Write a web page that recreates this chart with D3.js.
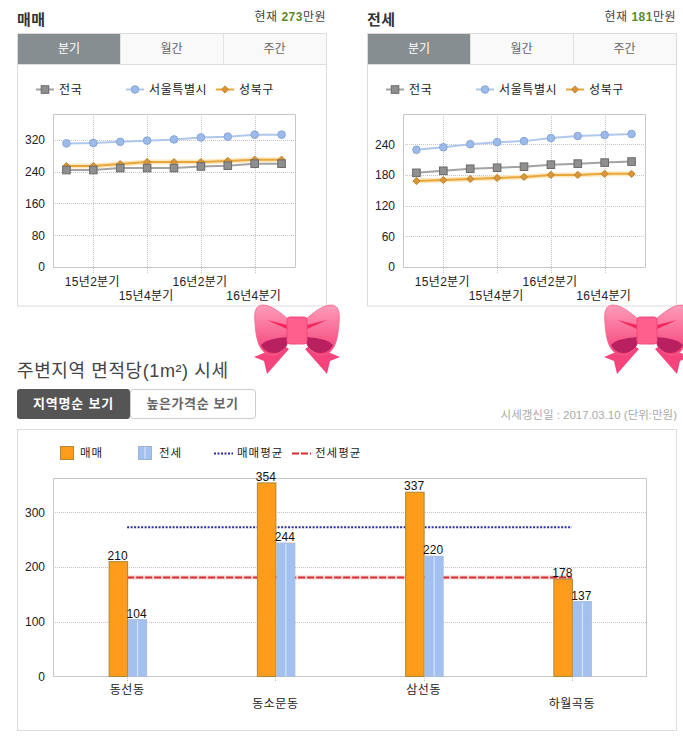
<!DOCTYPE html>
<html>
<head>
<meta charset="utf-8">
<script src="https://cdn.jsdelivr.net/npm/d3@7"></script>
<style>
body { margin: 0; background: #fff; }
text { font-family: "Liberation Sans", "Noto Sans CJK KR", sans-serif; }
.domain { display: none; }
</style>
</head>
<body>
<svg id="chart" width="683" height="740"></svg>
<script>
//top line charts
var quarters = ["15년1분기", "15년2분기", "15년3분기", "15년4분기", "16년1분기", "16년2분기", "16년3분기", "16년4분기", "17년1분기"];
var tabLabels = ["분기", "월간", "주간"];
var lineNames = ["전국", "서울특별시", "성북구"];

var saleNational = [244, 244, 249, 249, 249, 253, 255, 260, 260];
var saleSeoul = [311, 312, 315, 318, 321, 326, 328, 333, 333];
var saleLocal = [254, 254, 259, 264, 264, 264, 267, 270, 270];
var saleTicks = [0, 80, 160, 240, 320];
var saleTop = 385;

var rentNational = [184, 188, 192, 194, 196, 200, 202, 204, 206];
var rentSeoul = [229, 234, 240, 244, 246, 252, 256, 258, 260];
var rentLocal = [168, 170, 172, 174, 176, 180, 180, 182, 182];
var rentTicks = [0, 60, 120, 180, 240];
var rentTop = 299;

//bottom bar chart
var dongNames = ["동선동", "동소문동", "삼선동", "하월곡동"];
var dongSale = [210, 354, 337, 178];
var dongRent = [104, 244, 220, 137];
var saleAverage = 273;
var rentAverage = 181;
var barTicks = [0, 100, 200, 300];

var svg = d3.select("#chart");
var defs = svg.append("defs");

var bowGrad = defs.append("linearGradient").attr("id", "bowGrad").attr("x1", 0).attr("x2", 0).attr("y1", 0).attr("y2", 1);
bowGrad.append("stop").attr("offset", "0%").attr("stop-color", "#ff9dbb");
bowGrad.append("stop").attr("offset", "100%").attr("stop-color", "#f43f76");

function label(parent, x, y, str, size, color, anchor, weight, spacing) {
    return parent.append("text")
        .attr("x", x).attr("y", y)
        .attr("font-size", size)
        .attr("fill", color)
        .attr("text-anchor", anchor || "start")
        .attr("font-weight", weight || "normal")
        .attr("letter-spacing", spacing || 0)
        .text(str);
}

function drawMarker(g, kind, x, y) {
    if (kind == 0) {
        g.append("rect").attr("x", x - 3.8).attr("y", y - 3.8).attr("width", 7.6).attr("height", 7.6)
            .attr("fill", "#8f8f8f").attr("stroke", "#6a6a6a");
    } else if (kind == 1) {
        g.append("circle").attr("cx", x).attr("cy", y).attr("r", 3.8)
            .attr("fill", "#9dbbea").attr("stroke", "#86a5d8");
    } else {
        g.append("path").attr("transform", `translate(${x},${y})`)
            .attr("d", "M0,-3.6L3.6,0L0,3.6L-3.6,0Z")
            .attr("fill", "#d9953a").attr("stroke", "#c0852f");
    }
}

var lineColors = ["#a3a3a3", "#afc8ea", "#e8a63c"];

//one quarter/month/week panel
function drawPanel(left, title, now, series, ticks, top) {
    var g = svg.append("g").attr("transform", `translate(${left},0)`);

    label(g, 0, 25, title, 15, "#333", "start", "bold", 0.5);
    var nowText = label(g, 309, 21, "현재 ", 12, "#444", "end", "normal", 0.5);
    nowText.append("tspan").attr("fill", "#5c8a2e").attr("font-weight", "bold").text(now);
    nowText.append("tspan").text("만원");

    g.append("rect").attr("x", 0.5).attr("y", 33.5).attr("width", 309).attr("height", 272.5)
        .attr("fill", "#fff").attr("stroke", "#dcdcdc");

    var tabX = [1, 103, 206, 309];
    tabLabels.forEach((tab, i) => {
        g.append("rect").attr("x", tabX[i]).attr("y", 34).attr("width", tabX[i + 1] - tabX[i]).attr("height", 30)
            .attr("fill", i == 0 ? "#868e91" : "#f9f9f9");
        g.append("line").attr("x1", tabX[i]).attr("x2", tabX[i + 1]).attr("y1", 64.5).attr("y2", 64.5).attr("stroke", "#dcdcdc");
        if (i > 0) g.append("line").attr("x1", tabX[i] + 0.5).attr("x2", tabX[i] + 0.5).attr("y1", 34).attr("y2", 64).attr("stroke", "#e2e2e2");
        label(g, (tabX[i] + tabX[i + 1]) / 2, 53, tab, 12, i == 0 ? "#fff" : "#666", "middle");
    });

    //legend
    var legendX = [19, 109, 199];
    lineNames.forEach((name, i) => {
        g.append("line").attr("x1", legendX[i]).attr("x2", legendX[i] + 18).attr("y1", 89.5).attr("y2", 89.5)
            .attr("stroke", lineColors[i]).attr("stroke-width", 2);
        drawMarker(g, i, legendX[i] + 9, 89.5);
        label(g, legendX[i] + 23, 93.5, name, 12, "#222", "start", "normal", 0.6);
    });

    var x = d3.scalePoint().domain(quarters).range([36, 278]).padding(0.5);
    var y = d3.scaleLinear().domain([0, top]).range([267, 114]);

    //grid
    g.selectAll(".hgrid").data(ticks.slice(1)).enter().append("line")
        .attr("x1", 36).attr("x2", 278)
        .attr("y1", d => Math.round(y(d)) + 0.5).attr("y2", d => Math.round(y(d)) + 0.5)
        .attr("stroke", "#c4c4c4").attr("stroke-dasharray", "1,1");
    g.selectAll(".vgrid").data(quarters.filter((q, i) => i % 2 == 1)).enter().append("line")
        .attr("x1", d => Math.round(x(d)) + 0.5).attr("x2", d => Math.round(x(d)) + 0.5)
        .attr("y1", 114).attr("y2", 273)
        .attr("stroke", "#c4c4c4").attr("stroke-dasharray", "1,1");

    g.append("path").attr("d", "M36.5,114.5H278.5V267.5H36.5Z").attr("fill", "none").attr("stroke", "#c8c8c8");

    //y axis
    var yAxis = g.append("g").attr("transform", "translate(36,0)")
        .call(d3.axisLeft(y).tickValues(ticks).tickSize(0).tickPadding(8));
    yAxis.selectAll("text").attr("font-size", 12).attr("fill", "#222")
        .style("font-family", "'Liberation Sans', sans-serif");

    //x labels on two rows
    quarters.forEach((q, i) => {
        if (i % 2 == 1) {
            label(g, x(q) - 1, i % 4 == 1 ? 286 : 300, q, 12, "#222", "middle", "normal", 0.3);
        }
    });

    //local drawn first so squares sit over diamonds
    [2, 1, 0].forEach((k) => {
        var line = d3.line().x((d, i) => x(quarters[i])).y(d => y(d));
        if (k == 2) {
            g.append("path").attr("d", line(series[k])).attr("fill", "none").attr("stroke", "#fde8bd").attr("stroke-width", 5);
        }
        g.append("path").attr("d", line(series[k])).attr("fill", "none").attr("stroke", lineColors[k]).attr("stroke-width", 2);
        series[k].forEach((v, i) => drawMarker(g, k, x(quarters[i]), y(v)));
    });
}

drawPanel(17, "매매", "273", [saleNational, saleSeoul, saleLocal], saleTicks, saleTop);
drawPanel(367, "전세", "181", [rentNational, rentSeoul, rentLocal], rentTicks, rentTop);

//ribbon decoration
function drawBow(cx) {
    var g = svg.append("g").attr("transform", `translate(${cx},305)`);
    [1, -1].forEach((side) => {
        var s = g.append("g").attr("transform", `scale(${side},1)`);
        s.append("path").attr("d", "M-14,40L-43,52L-33,56L-30,69L-8,44Z").attr("fill", "#f5447c");
        s.append("path").attr("d", "M-9,14C-16,8-26,0-34,0C-42,0-43,8-42,18C-41,34-38,50-24,50C-16,50-12,42-9,38Z")
            .attr("fill", "url(#bowGrad)").attr("stroke", "#f0668f").attr("stroke-width", 0.8);
        s.append("path").attr("d", "M-10,32C-20,33-30,34-36,40C-32,48-24,49-18,47C-14,45-11,42-10,40Z").attr("fill", "#b8205f");
        s.append("path").attr("d", "M-30,15L-10,20L-10,24Z").attr("fill", "#f5265c");
    });
    g.append("rect").attr("x", -10).attr("y", 12).attr("width", 20).attr("height", 27).attr("rx", 3)
        .attr("fill", "#ff5f8c").attr("stroke", "#f04a7c");
}
drawBow(297);
drawBow(647);

//section heading and buttons
label(svg, 17, 377, "주변지역 면적당(1m²) 시세", 18, "#444", "start", "normal", 0.6);
svg.append("rect").attr("x", 17).attr("y", 389).attr("width", 113).attr("height", 30).attr("rx", 3).attr("fill", "#555");
label(svg, 73.5, 408, "지역명순 보기", 13, "#fff", "middle", "bold", 0.8);
svg.append("rect").attr("x", 130.5).attr("y", 389.5).attr("width", 125).attr("height", 29).attr("rx", 3)
    .attr("fill", "#fff").attr("stroke", "#ccc");
label(svg, 192.5, 408, "높은가격순 보기", 13, "#666", "middle", "bold", 0.6);
label(svg, 677, 418.5, "시세갱신일 : 2017.03.10 (단위:만원)", 11.5, "#aaa", "end");

svg.append("rect").attr("x", 17.5).attr("y", 429.5).attr("width", 659).attr("height", 301)
    .attr("fill", "#fff").attr("stroke", "#ddd");

//bar legend
svg.append("rect").attr("x", 60.5).attr("y", 446.5).attr("width", 13).attr("height", 13).attr("fill", "#ff9c1c").attr("stroke", "#b8862f");
label(svg, 80, 457, "매매", 11.5, "#222", "start", "normal", 1);
svg.append("rect").attr("x", 138.5).attr("y", 446.5).attr("width", 13).attr("height", 13).attr("fill", "#a3c1f0").attr("stroke", "#9fb3d0");
svg.append("line").attr("x1", 145).attr("x2", 145).attr("y1", 447).attr("y2", 459).attr("stroke", "#dfe9fa");
label(svg, 159, 457, "전세", 11.5, "#222", "start", "normal", 1);
svg.append("line").attr("x1", 214).attr("x2", 233).attr("y1", 453.5).attr("y2", 453.5)
    .attr("stroke", "#2b2b9c").attr("stroke-width", 2).attr("stroke-dasharray", "2,1.5");
label(svg, 237, 457, "매매평균", 11.5, "#222", "start", "normal", 1);
svg.append("line").attr("x1", 292).attr("x2", 311).attr("y1", 453.5).attr("y2", 453.5)
    .attr("stroke", "#d92b2b").attr("stroke-width", 2).attr("stroke-dasharray", "7,2");
label(svg, 315, 457, "전세평균", 11.5, "#222", "start", "normal", 1);

//bar chart scales
var bx = d3.scaleBand().domain(dongNames).range([53, 646]);
var by = d3.scaleLinear().domain([0, 363]).range([676.5, 478]);
var center = d => bx(d) + bx.bandwidth() / 2;
var barW = 19;

var bars = svg.append("g");
bars.selectAll(".hgrid").data(barTicks.slice(1)).enter().append("line")
    .attr("x1", 53).attr("x2", 646)
    .attr("y1", d => Math.round(by(d)) + 0.5).attr("y2", d => Math.round(by(d)) + 0.5)
    .attr("stroke", "#c4c4c4").attr("stroke-dasharray", "1,1");
bars.selectAll(".tick2").data(dongNames).enter().append("line")
    .attr("x1", d => Math.round(center(d)) + 0.5).attr("x2", d => Math.round(center(d)) + 0.5)
    .attr("y1", 676).attr("y2", 682)
    .attr("stroke", "#bdbdbd").attr("stroke-dasharray", "1,1");
bars.append("path").attr("d", "M53.5,478.5H646.5V676.5H53.5Z").attr("fill", "none").attr("stroke", "#c8c8c8");

//average lines sit behind the bars
var avgFirst = center(dongNames[0]);
var avgLast = center(dongNames[3]);
bars.append("line").attr("x1", avgFirst).attr("x2", avgLast).attr("y1", by(saleAverage)).attr("y2", by(saleAverage))
    .attr("stroke", "#2b2b9c").attr("stroke-width", 2).attr("stroke-dasharray", "2,1.5");
bars.append("line").attr("x1", avgFirst).attr("x2", avgLast).attr("y1", by(rentAverage)).attr("y2", by(rentAverage))
    .attr("stroke", "#fad0d0").attr("stroke-width", 4);
bars.append("line").attr("x1", avgFirst).attr("x2", avgLast).attr("y1", by(rentAverage)).attr("y2", by(rentAverage))
    .attr("stroke", "#d22f35").attr("stroke-width", 2).attr("stroke-dasharray", "7,2");

dongNames.forEach((name, i) => {
    var c = center(name);
    bars.append("rect").attr("x", c - barW + 1).attr("y", by(dongSale[i])).attr("width", barW - 0.5).attr("height", by(0) - by(dongSale[i]))
        .attr("fill", "#ff9c1c").attr("stroke", "#ab8436");
    bars.append("rect").attr("x", c + 1.5).attr("y", by(dongRent[i])).attr("width", barW - 1).attr("height", by(0) - by(dongRent[i]))
        .attr("fill", "#a3c1f0").attr("stroke", "#a9bdda");
    bars.append("line").attr("x1", c + 10.5).attr("x2", c + 10.5).attr("y1", by(dongRent[i]) + 1).attr("y2", by(0))
        .attr("stroke", "#dfe9fa");
    label(bars, c - barW / 2, by(dongSale[i]) - 2, dongSale[i], 12, "#111", "middle");
    label(bars, c + barW / 2, by(dongRent[i]) - 2, dongRent[i], 12, "#111", "middle");
    label(bars, c, i % 2 == 0 ? 694 : 708, name, 12, "#222", "middle", "normal", 0.5);
});

var barAxis = bars.append("g").attr("transform", "translate(53,0)")
    .call(d3.axisLeft(by).tickValues(barTicks).tickSize(0).tickPadding(8));
barAxis.selectAll("text").attr("font-size", 12).attr("fill", "#222")
    .style("font-family", "'Liberation Sans', sans-serif");
</script>
</body>
</html>
